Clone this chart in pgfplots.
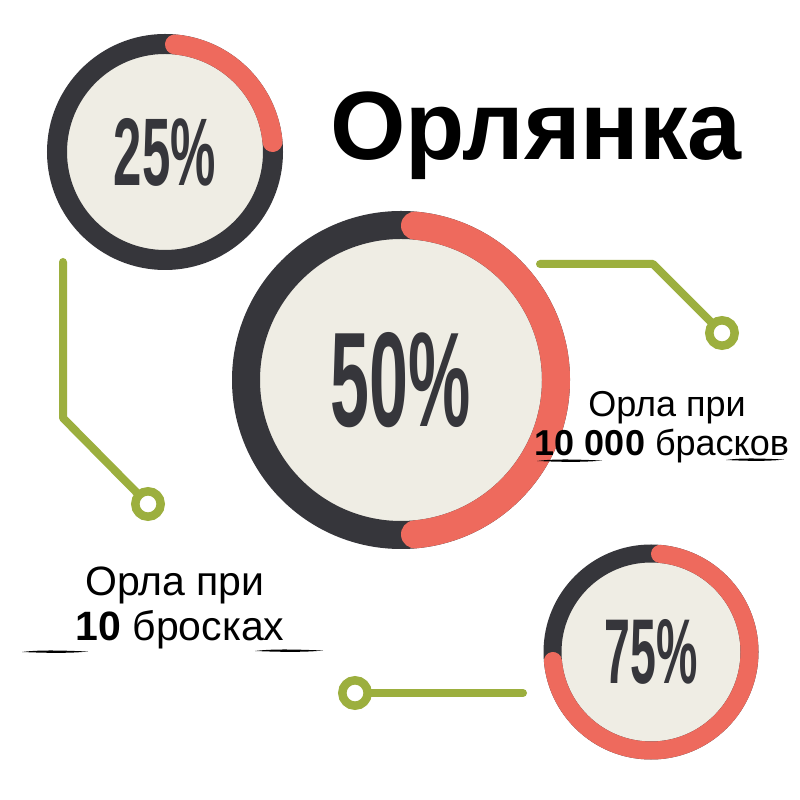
\documentclass[border=0pt]{standalone}
\usepackage{pgfplots}
\pgfplotsset{compat=1.18}
\usepackage{graphicx}
\usepackage{fontspec}
\setmainfont{Liberation Sans}

\definecolor{ringdark}{HTML}{36363B}
\definecolor{ringred}{HTML}{EE6A5D}
\definecolor{ringfill}{HTML}{EFEDE4}
\definecolor{gline}{HTML}{9CAF3E}

% \donut{cx}{cy}{ring radius}{ring width}{percent}{label width}{label height}
\newcommand{\donut}[7]{%
  \addplot[only marks, scatter, mark=*, mark size=0.1pt,
    mark options={draw=none, fill=ringfill},
    scatter/@pre marker code/.code={},
    scatter/@post marker code/.code={%
      \pgfkeys{/pgf/fpu=false}%
      \pgfmathsetmacro\dd{#4/2/#3*180/pi}%
      \pgfmathsetmacro\aa{90-\dd}%
      \pgfmathsetmacro\bb{90-3.6*#5+\dd}%
      \fill[ringfill] (0,0) circle[radius=#3pt];
      \draw[ringdark, line width=#4pt] (0,0) circle[radius=#3pt];
      \draw[ringred, line width=#4pt, line cap=round]
        (\aa:#3pt) arc[start angle=\aa, end angle=\bb, radius=#3pt];
      \node[text=ringdark, inner sep=0pt] at (0,0)
        {\resizebox{#6pt}{#7pt}{\bfseries #5\%}};
    }]
    coordinates {(#1,#2)};}

% rough brush stroke under a word
\newcommand{\brush}[3]{%
  \fill[black] (axis cs:#1,#3) .. controls (axis cs:{#1+0.3*(#2-#1)},{#3-2.6}) and (axis cs:{#1+0.7*(#2-#1)},{#3-1.2}) .. (axis cs:#2,{#3-0.5})
    .. controls (axis cs:{#1+0.7*(#2-#1)},{#3+1.6}) and (axis cs:{#1+0.3*(#2-#1)},{#3+0.8}) .. cycle;}

\begin{document}
\begin{tikzpicture}
\begin{axis}[
  set layers,
  width=800pt, height=800pt, scale only axis,
  xmin=0, xmax=800, ymin=0, ymax=800, y dir=reverse,
  hide axis, clip=false]

\begin{pgfonlayer}{axis background}
\fill[white] (axis cs:0,0) rectangle (axis cs:800,800);
\end{pgfonlayer}

% connectors
\addplot[gline, line width=8pt, line cap=round, line join=round, mark=none]
  coordinates {(63,262) (63,418) (148,504)};
\addplot[gline, line width=8pt, line cap=round, line join=round, mark=none]
  coordinates {(540,264) (653,264) (722,333)};
\addplot[gline, line width=8pt, line cap=round, line join=round, mark=none]
  coordinates {(355,693) (523,693)};
\addplot[only marks, mark=*, mark size=12.7pt,
  mark options={fill=white, draw=gline, line width=8.5pt}]
  coordinates {(148,504) (722,333) (355,693)};

% donuts
\donut{165}{152}{108}{20}{25}{102}{67}
\donut{401}{380}{155}{28}{50}{140}{94}
\donut{651}{652}{98.5}{18}{75}{93}{64}

\begin{pgfonlayer}{axis foreground}
% title
\node[anchor=base west, inner sep=0pt] at (axis cs:330,160)
  {\fontsize{97pt}{100pt}\selectfont\bfseries Орлянка};

% right caption
\node[anchor=base, inner sep=0pt] at (axis cs:667,417)
  {\fontsize{36pt}{40pt}\selectfont Орла при};
\node[anchor=base, inner sep=0pt] at (axis cs:662,456)
  {\fontsize{36pt}{40pt}\selectfont\textbf{10 000} брасков};
\brush{537}{602}{461}
\brush{726}{784}{460}

% left caption
\node[anchor=base, inner sep=0pt] at (axis cs:175,596)
  {\fontsize{41pt}{45pt}\selectfont Орла при};
\node[anchor=base, inner sep=0pt] at (axis cs:180,641)
  {\fontsize{41pt}{45pt}\selectfont\textbf{10} бросках};
\brush{22}{88}{652}
\brush{255}{323}{651}
\end{pgfonlayer}

\end{axis}
\end{tikzpicture}
\end{document}
